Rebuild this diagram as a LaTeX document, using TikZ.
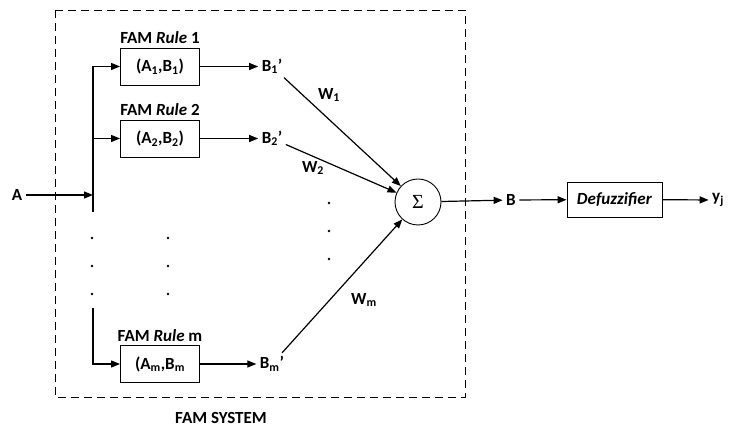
\documentclass[tikz,border=0pt]{standalone}
\usepackage{fontspec}
\setmainfont{Carlito}
\newfontfamily\sigmafont{Liberation Serif}
\usetikzlibrary{positioning}
\usetikzlibrary{arrows.meta, shapes}

\begin{document}
\begin{tikzpicture}[x=1pt, y=1pt, line width=1.2pt,
	font=\fontsize{17}{20}\selectfont\bfseries]

\tikzset{rule box/.style={
		draw,
		line width=0.9pt,
		minimum width=79pt,
		minimum height=37pt,
		inner sep=0pt
	},
	arr/.style={-{Triangle[length=9pt,width=7pt]}},
	lbl/.style={inner sep=3pt}
}
\useasboundingbox (0,0) rectangle (737,-427);

% fam system frame
\draw[line width=0.9pt, dash pattern=on 8pt off 5pt] (55,-10) rectangle (465,-397);
\node[inner sep=0pt] (famsys) at (221,-418) {FAM SYSTEM};

% rules
\node[rule box] (r1) at (160,-66.5) {(A\textsubscript{1},B\textsubscript{1})};
\node[rule box] (r2) at (160,-138.5) {(A\textsubscript{2},B\textsubscript{2})};
\node[rule box] (rm) at (160,-364) {(A\textsubscript{m},B\textsubscript{m}};
\node[above=2pt of r1, inner sep=1pt] (t1) {FAM \textit{Rule} 1};
\node[above=2pt of r2, inner sep=1pt] (t2) {FAM \textit{Rule} 2};
\node[above=2pt of rm, inner sep=1pt] (tm) {FAM \textit{Rule} m};

% input bus
\node (a) at (17,-195) {A};
\coordinate (ain) at (93,-195);
\coordinate (bus1) at (93,-66.5);
\coordinate (bus2) at (93,-138.5);
\coordinate (busend) at (93,-212);
\coordinate (busm) at (93,-308);
\draw[arr] (a) -- (ain);
\draw (bus1) -- (busend);
\draw[arr] (bus1) -- (r1);
\draw[arr] (bus2) -- (r2);
\draw[arr] (busm) |- (rm);

% rule outputs
\node[lbl] (b1) at (272,-66.5) {B\textsubscript{1}’};
\node[lbl] (b2) at (272,-138.5) {B\textsubscript{2}’};
\node[lbl] (bm) at (272,-364) {B\textsubscript{m}’};
\draw[arr] (r1) -- (b1);
\draw[arr] (r2) -- (b2);
\draw[arr] (rm) -- (bm);

% sum
\node[draw, circle, line width=0.9pt, minimum size=46pt, inner sep=0pt] (sig) at (418,-202) {\sigmafont\mdseries\fontsize{20}{22}\selectfont Σ};
\draw[arr] (b1) -- (sig);
\draw[arr] (b2) -- (sig);
\draw[arr] (bm) -- (sig);
\node (w1) at (329,-95) {W\textsubscript{1}};
\node (w2) at (313,-168) {W\textsubscript{2}};
\node (wm) at (364,-300) {W\textsubscript{m}};

% dots
\foreach \x in {92,168} {
	\foreach \y in {238,266,294} {
		\fill (\x,-\y) circle (1.4pt);
	}
}
\foreach \y in {203,231,259} {
	\fill (329,-\y) circle (1.4pt);
}

% defuzzifier
\node[lbl] (b) at (511,-200) {B};
\node[rule box, minimum width=95pt, minimum height=35pt] (defuzz) at (614.5,-199.5) {\textit{Defuzzifier}};
\node[lbl] (yj) at (718,-200) {y\textsubscript{j}};
\draw[arr] (sig) -- (b);
\draw[arr] (b) -- (defuzz);
\draw[arr] (defuzz) -- (yj);

\end{tikzpicture}
\end{document}
